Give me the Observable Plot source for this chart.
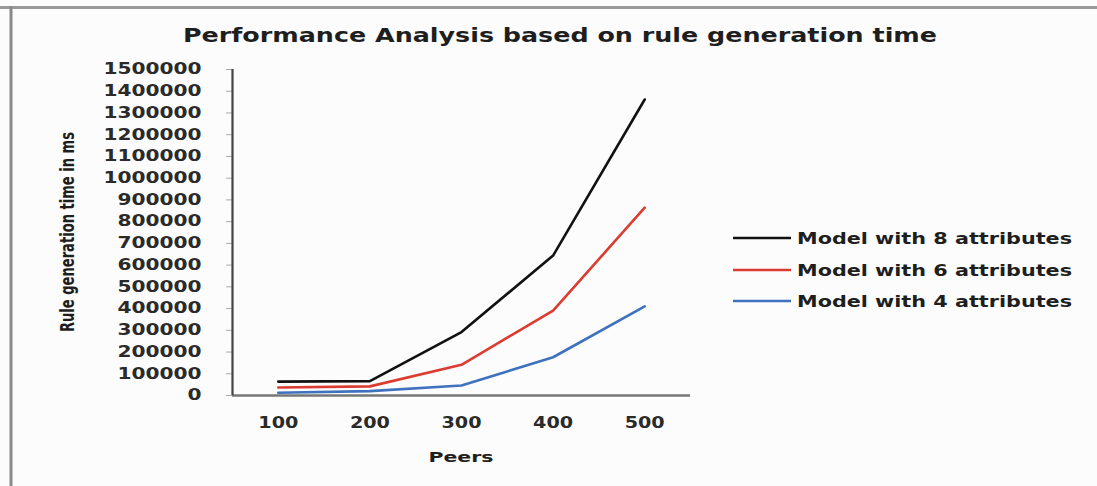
<!DOCTYPE html>
<html>
<head>
<meta charset="utf-8">
<script src="https://cdn.jsdelivr.net/npm/d3@7"></script>
<script src="https://cdn.jsdelivr.net/npm/@observablehq/plot@0.6"></script>
<style>
  html, body { margin: 0; padding: 0; background: #fcfcfc; }
  #chart { position: relative; width: 1097px; height: 486px; overflow: hidden; }
</style>
</head>
<body>
<div id="chart"></div>
<script>
const peers = [100, 200, 300, 400, 500];
const model8 = [64000, 66000, 292000, 644000, 1362000];
const model6 = [37000, 42000, 141000, 391000, 864000];
const model4 = [13000, 20000, 46000, 176000, 410000];
const seriesNames = ["Model with 8 attributes", "Model with 6 attributes", "Model with 4 attributes"];
const seriesColors = ["#111111", "#dc3b32", "#3f72be"];
const yTicks = d3.range(0, 1500001, 100000);

const data = [];
[model8, model6, model4].forEach((vals, s) => {
  vals.forEach((v, i) => data.push({peers: peers[i], time: v, series: seriesNames[s]}));
});

const W = 1097, H = 486;
const svg = Plot.plot({
  width: W,
  height: H,
  marginLeft: 232,
  marginTop: 69,
  marginBottom: 91,
  marginRight: 407,
  style: {background: "transparent", fontFamily: "DejaVu Sans", fontWeight: "bold", fontSize: "15px", color: "#222"},
  x: {domain: [50, 550], ticks: peers, tickSize: 0, tickPadding: 22, tickFormat: d => String(d), label: null},
  y: {domain: [0, 1500000], ticks: yTicks, tickSize: 6, tickPadding: 25, tickFormat: d => String(d), label: null},
  color: {domain: seriesNames, range: seriesColors},
  marks: [
    Plot.line(data, {x: "peers", y: "time", z: "series", stroke: "series", strokeWidth: 2.6}),
    Plot.ruleY([0], {stroke: "#777", strokeWidth: 2.5}),
    Plot.ruleX([50], {y1: 0, y2: 1500000, stroke: "#444", strokeWidth: 2.2})
  ]
});
svg.style.position = "absolute";
svg.style.left = "0px";
svg.style.top = "0px";
document.getElementById("chart").appendChild(svg);

const s = d3.select(svg);
s.selectAll("g[aria-label='y-axis tick'] path, g[aria-label='y-axis tick'] line").attr("stroke", "#aaa");

function stretch(sel, targetRef) {
  const nodes = sel.nodes();
  if (!nodes.length) return;
  let maxLen = 0;
  nodes.forEach(n => { maxLen = Math.max(maxLen, n.getComputedTextLength()); });
  const f = targetRef / maxLen;
  nodes.forEach(n => {
    const l = n.getComputedTextLength();
    n.setAttribute("textLength", (l * f).toFixed(1));
    n.setAttribute("lengthAdjust", "spacingAndGlyphs");
  });
}
stretch(s.selectAll("g[aria-label='y-axis tick label'] text"), 98);
stretch(s.selectAll("g[aria-label='x-axis tick label'] text"), 40);
s.selectAll("g[aria-label='y-axis tick label'] text, g[aria-label='x-axis tick label'] text").attr("fill", "#2a2a2a");

const deco = s.append("g");
deco.append("line").attr("x1", 0).attr("x2", W).attr("y1", 7.5).attr("y2", 7.5).attr("stroke", "#9a9a9a").attr("stroke-width", 3);
deco.append("line").attr("x1", 11).attr("x2", 11).attr("y1", 6).attr("y2", H).attr("stroke", "#8a8a8a").attr("stroke-width", 3);

function addText(txt, x, y, size, len, anchor, rotate) {
  const t = deco.append("text")
    .attr("x", x).attr("y", y)
    .attr("font-family", rotate ? "DejaVu Sans Condensed, DejaVu Sans" : "DejaVu Sans")
    .attr("font-weight", "bold")
    .attr("font-size", size)
    .attr("fill", "#1e1e1e")
    .attr("text-anchor", anchor)
    .text(txt);
  if (rotate) t.attr("transform", `rotate(-90 ${x} ${y})`);
  t.attr("textLength", len).attr("lengthAdjust", "spacingAndGlyphs");
  return t;
}
addText("Performance Analysis based on rule generation time", 560, 42, 19, 754, "middle");
addText("Peers", 461, 462, 14, 65, "middle");
addText("Rule generation time in ms", 74, 232, 20, 200, "middle", true);

const legendY = [238, 270, 301];
seriesNames.forEach((name, i) => {
  deco.append("line").attr("x1", 733).attr("x2", 791).attr("y1", legendY[i]).attr("y2", legendY[i])
    .attr("stroke", seriesColors[i]).attr("stroke-width", 2.6);
  addText(name, 797, legendY[i] + 5.5, 15, 275, "start");
});
</script>
</body>
</html>
